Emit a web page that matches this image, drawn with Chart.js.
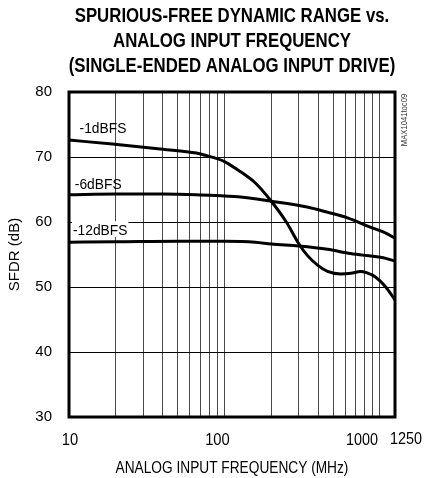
<!DOCTYPE html>
<html><head><meta charset="utf-8">
<script src="https://cdn.jsdelivr.net/npm/chart.js@4/dist/chart.umd.min.js"></script>
<style>html,body{margin:0;padding:0;background:#fff;}#wrap{position:relative;width:425px;height:478px;}</style>
</head><body><div id="wrap"><canvas id="c" width="425" height="478"></canvas></div>
<script>
// ---- data ----
const titleLines = ['SPURIOUS-FREE DYNAMIC RANGE vs.', 'ANALOG INPUT FREQUENCY', '(SINGLE-ENDED ANALOG INPUT DRIVE)'];
const xAxisTitle = 'ANALOG INPUT FREQUENCY (MHz)';
const yAxisTitle = 'SFDR (dB)';
const figureCode = 'MAX1041toc09';
const seriesNames = ['-1dBFS', '-6dBFS', '-12dBFS'];

const freq1 = [10, 19, 40, 66, 74, 100, 122, 158, 200, 250, 300, 340, 395, 460, 560, 650, 750, 820, 940, 1090, 1250];
const sfdr1 = [72.6, 72.0, 71.2, 70.6, 70.3, 69.3, 68.0, 66.0, 63.2, 60.0, 56.7, 54.9, 53.4, 52.4, 52.0, 52.1, 52.4, 52.2, 51.5, 50.0, 48.0];

const freq6 = [10, 20, 40, 66, 100, 122, 200, 340, 460, 625, 850, 1090, 1250];
const sfdr6 = [64.2, 64.3, 64.3, 64.2, 64.0, 63.9, 63.2, 62.3, 61.5, 60.6, 59.3, 58.3, 57.5];

const freq12 = [10, 20, 50, 100, 158, 200, 300, 460, 625, 850, 1090, 1250];
const sfdr12 = [56.9, 56.95, 57.05, 57.05, 56.9, 56.6, 56.3, 55.8, 55.2, 54.8, 54.4, 54.0];

const xGridValues = [10, 20, 30, 40, 50, 60, 70, 80, 90, 100, 200, 300, 400, 500, 600, 700, 800, 900, 1000, 1250];
const xTickLabels = [10, 100, 1000, 1250];
const yMin = 30, yMax = 80, yStep = 10;

// ---- chart ----
const FONT = '"Liberation Sans", Arial, sans-serif';
const toPts = (xs, ys) => xs.map((x, i) => ({x: x, y: ys[i]}));
const lineStyle = {borderColor: '#000', borderWidth: 3, pointRadius: 0, fill: false, cubicInterpolationMode: 'monotone'};

// draw condensed text (narrow sans look)
function narrowText(ctx, text, x, y, sx, align) {
  ctx.save();
  ctx.translate(x, y);
  ctx.scale(sx, 1);
  ctx.textAlign = align || 'center';
  ctx.fillText(text, 0, 0);
  ctx.restore();
}

const decor = {
  id: 'decor',
  afterDatasetsDraw(chart) {
    const {ctx, chartArea: a, scales: {x, y}} = chart;
    ctx.save();
    // frame
    ctx.strokeStyle = '#000'; ctx.lineWidth = 3;
    ctx.strokeRect(a.left, a.top, a.right - a.left, a.bottom - a.top);
    ctx.fillStyle = '#000';
    ctx.textBaseline = 'alphabetic';
    // series labels
    ctx.font = '15px ' + FONT;
    const labelPos = [[11.7, 74.6], [10.9, 66.0], [10.6, 58.9]];
    seriesNames.forEach((n, i) => {
      const px = x.getPixelForValue(labelPos[i][0]), py = y.getPixelForValue(labelPos[i][1]);
      if (i === 2) { const w = ctx.measureText(n).width * 0.92; ctx.fillStyle = '#fff'; ctx.fillRect(px - 1, py - 8, w + 2, 16); ctx.fillStyle = '#000'; }
      narrowText(ctx, n, px, py + 5.5, 0.92, 'left');
    });
    // x tick labels
    ctx.font = '16px ' + FONT;
    xTickLabels.forEach((v, i) => {
      const px = x.getPixelForValue(v);
      const base = a.bottom + 28;
      if (i === 0) narrowText(ctx, String(v), px + 1, base, 0.92, 'center');
      else if (i === xTickLabels.length - 1) narrowText(ctx, String(v), px - 5, base - 1.5, 0.9, 'left');
      else if (i === xTickLabels.length - 2) narrowText(ctx, String(v), px - 2, base, 0.9, 'right');
      else narrowText(ctx, String(v), px - 7, base, 0.92, 'center');
    });
    // x axis title
    ctx.font = '16.5px ' + FONT;
    narrowText(ctx, xAxisTitle, (a.left + a.right) / 2, a.bottom + 56, 0.83, 'center');
    // figure code
    ctx.save();
    ctx.translate(a.right + 12, a.top + 28);
    ctx.rotate(-Math.PI / 2);
    ctx.font = '9px ' + FONT; ctx.fillStyle = '#333';
    narrowText(ctx, figureCode, 0, 0, 0.85, 'center');
    ctx.restore();
    // title
    ctx.font = 'bold 20px ' + FONT; ctx.fillStyle = '#000';
    const cx = (a.left + a.right) / 2;
    titleLines.forEach((t, i) => narrowText(ctx, t, cx, 22 + i * 25, 0.84, 'center'));
    ctx.restore();
  }
};

new Chart(document.getElementById('c'), {
  type: 'line',
  data: {
    datasets: [
      Object.assign({label: seriesNames[0], data: toPts(freq1, sfdr1)}, lineStyle),
      Object.assign({label: seriesNames[1], data: toPts(freq6, sfdr6)}, lineStyle),
      Object.assign({label: seriesNames[2], data: toPts(freq12, sfdr12)}, lineStyle)
    ]
  },
  options: {
    responsive: false, animation: false, devicePixelRatio: 1,
    layout: {padding: {top: 92, right: 30, left: 0, bottom: 0}},
    plugins: {legend: {display: false}, title: {display: false}, tooltip: {enabled: false}},
    scales: {
      x: {
        type: 'logarithmic', min: 10, max: 1250,
        afterBuildTicks: s => { s.ticks = xGridValues.map(v => ({value: v})); },
        afterFit: s => { s.height = 61; },
        ticks: {display: false, autoSkip: false, maxRotation: 0},
        grid: {color: '#4a4a4a', lineWidth: 1, drawTicks: false},
        border: {display: false},
        title: {display: false}
      },
      y: {
        min: yMin, max: yMax,
        afterFit: s => { s.width = 69; },
        ticks: {stepSize: yStep, padding: 17, color: '#000', font: {family: FONT, size: 15}},
        grid: {color: '#000', lineWidth: 1, drawTicks: false},
        border: {display: false},
        title: {display: true, text: yAxisTitle, color: '#000', font: {family: FONT, size: 15}, padding: {top: 6, bottom: 0}}
      }
    }
  },
  plugins: [decor]
});
</script></body></html>
